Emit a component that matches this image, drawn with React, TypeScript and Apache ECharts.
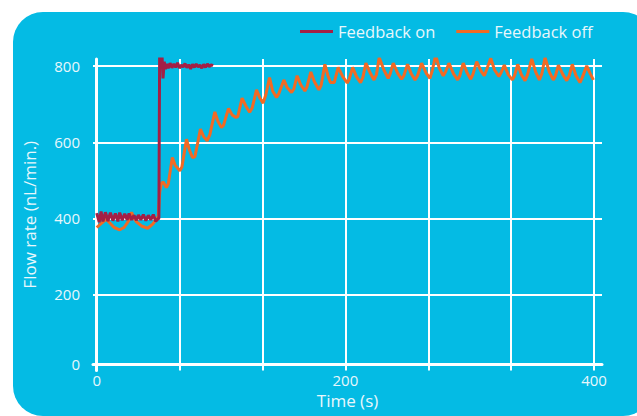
import { useEffect, useRef } from 'react';
import * as echarts from 'echarts';

// Feedback on (red)
const onTime = [0, 2, 3.5, 5, 7, 9, 11, 13, 15, 17, 18.5, 20.5, 22.5, 24.5, 26, 28, 30, 32, 33.5, 35.5, 37.5, 39.5, 41.5, 43.5, 45.5, 47.5, 49, 50, 50.6, 52.4, 53.3, 54.3, 55.3, 56.3, 57.5, 59, 60.5, 62, 63.5, 65, 66.5, 68, 69.5, 71, 72.5, 74, 75.5, 77, 78.5, 80, 81.5, 83, 84.5, 86, 87.5, 89, 90.5, 92, 93.5];
const onFlow = [414, 390, 418, 392, 416, 393, 415, 394, 413, 392, 415, 395, 412, 396, 413, 396, 408, 395, 409, 396, 410, 394, 408, 396, 410, 392, 398, 400, 836, 838, 768, 812, 792, 806, 795, 808, 796, 806, 797, 809, 795, 803, 798, 807, 796, 804, 793, 805, 797, 806, 798, 803, 795, 805, 797, 806, 799, 804, 801];

// Feedback off (orange)
const offTime = [0, 3, 7.8, 10, 14, 18.5, 22, 26, 28, 30, 32, 36, 41, 45, 48, 49.5, 50.7, 52, 53.5, 56, 57.5, 60.8, 63, 66.8, 68.5, 72.2, 74.5, 77, 79, 83.4, 86, 88.8, 91, 95, 97.5, 100.3, 102, 106, 109, 112, 113.5, 116.9, 120, 123, 125, 128.5, 131, 133.8, 136, 139, 141.5, 144.6, 146.5, 150.5, 153, 156.7, 158.5, 161.2, 164, 167.4, 169, 172.2, 175, 178.7, 180.5, 183.5, 186, 188, 191, 194.2, 198, 201.5, 203, 205.8, 209, 212.2, 214, 216.5, 220, 223, 225, 227.2, 231, 234.4, 236, 238.5, 242, 245.2, 247, 250, 253, 256, 258, 261.3, 265, 268, 270, 272.6, 275.5, 278.7, 280.5, 283.3, 287, 290.3, 292, 294.8, 298, 300.8, 302.5, 305.6, 309, 311.7, 313.5, 316.9, 320, 323.5, 325.5, 327.8, 331, 334.3, 336, 338.6, 341.5, 344.5, 346.5, 349.9, 353, 356, 358, 360.6, 364, 367.2, 369, 371.3, 375, 378, 380, 382.5, 385.5, 388.7, 390.5, 394.1, 397, 399.5];
const offFlow = [376, 385, 398, 390, 376, 370, 376, 395, 416, 400, 391, 380, 374, 385, 398, 405, 470, 492, 496, 481, 490, 560, 540, 525, 535, 608, 580, 560, 562, 635, 615, 604, 620, 680, 655, 639, 645, 689, 672, 665, 668, 716, 695, 679, 690, 738, 718, 703, 725, 770, 735, 718, 728, 764, 745, 731, 740, 775, 752, 735, 745, 785, 760, 738, 750, 805, 775, 757, 757, 797, 772, 756, 765, 797, 772, 757, 770, 808, 782, 764, 778, 823, 790, 768, 780, 808, 782, 766, 775, 805, 780, 764, 775, 808, 782, 768, 790, 829, 795, 775, 785, 808, 780, 764, 775, 808, 782, 766, 778, 812, 788, 775, 790, 821, 790, 773, 785, 803, 778, 764, 775, 805, 778, 762, 778, 819, 785, 764, 780, 823, 785, 764, 775, 803, 778, 762, 775, 805, 775, 757, 770, 801, 780, 764];

const xTickValues = [0, 66.667, 133.333, 200, 266.667, 333.333, 400];
const xLabelValues = [0, 200, 400];
const yTickValues = [200, 400, 600, 800];
const yLabelValues = [0, 200, 400, 600, 800];

const FONT = '"Open Sans", "DejaVu Sans", sans-serif';
const TEXT = '#e8f7fc';

export default function App() {
  const ref = useRef<HTMLDivElement>(null);
  useEffect(() => {
    if (!ref.current) return;
    const chart = echarts.init(ref.current, null, { renderer: 'svg' });
    chart.setOption({
      animation: false,
      textStyle: { fontFamily: FONT },
      graphic: [
        {
          type: 'rect',
          z: -100,
          silent: true,
          shape: { x: 13, y: 12, width: 640, height: 404, r: 30 },
          style: { fill: '#04bbe4' },
        },
      ],
      legend: {
        left: 300,
        top: 23,
        padding: 0,
        icon: 'rect',
        itemWidth: 33,
        itemHeight: 3,
        itemGap: 21,
        data: ['Feedback on', 'Feedback off'],
        textStyle: { color: TEXT, fontSize: 16.5, fontFamily: FONT },
      },
      grid: {
        left: 93,
        right: 35,
        top: 59,
        bottom: 45.5,
        containLabel: false,
        outerBoundsMode: 'none',
      },
      xAxis: {
        type: 'value',
        min: -3,
        max: 406.4,
        offset: -6.5,
        axisLine: { onZero: false, lineStyle: { color: '#ffffff', width: 3 } },
        axisTick: { show: false, customValues: xTickValues },
        axisLabel: {
          customValues: xLabelValues,
          color: TEXT,
          fontSize: 15,
          fontFamily: FONT,
          margin: 8,
        },
        splitLine: { show: true, lineStyle: { color: '#ffffff', width: 2 } },
        name: 'Time (s)',
        nameLocation: 'middle',
        nameGap: 24,
        nameTextStyle: { color: TEXT, fontSize: 17, fontFamily: FONT },
      },
      yAxis: {
        type: 'value',
        min: 0,
        max: 819,
        axisLine: { show: true, onZero: true, lineStyle: { color: '#ffffff', width: 3 } },
        axisTick: { show: false, customValues: yTickValues },
        axisLabel: {
          customValues: yLabelValues,
          color: TEXT,
          fontSize: 15,
          fontFamily: FONT,
          margin: 13,
          formatter: (v: number) => (v === 0 ? '{z|0}' : String(v)),
          rich: { z: { color: TEXT, fontSize: 15, fontFamily: FONT, padding: [0, 0, 13, 0] } },
        },
        splitLine: { show: true, lineStyle: { color: '#ffffff', width: 2 } },
        name: 'Flow rate (nL/min.)',
        nameLocation: 'middle',
        nameGap: 55,
        nameTextStyle: { color: TEXT, fontSize: 17, fontFamily: FONT },
      },
      series: [
        {
          name: 'Feedback off',
          type: 'line',
          showSymbol: false,
          data: offTime.map((t, i) => [t, offFlow[i]]),
          lineStyle: { color: '#f26a24', width: 3 },
          itemStyle: { color: '#f26a24' },
          z: 3,
        },
        {
          name: 'Feedback on',
          type: 'line',
          showSymbol: false,
          data: onTime.map((t, i) => [t, onFlow[i]]),
          lineStyle: { color: '#a41f45', width: 3 },
          itemStyle: { color: '#a41f45' },
          z: 4,
        },
      ],
    });
    return () => chart.dispose();
  }, []);
  return (
    <div
      ref={ref}
      style={{ position: 'absolute', left: 0, top: 0, width: 637, height: 416 }}
    />
  );
}
